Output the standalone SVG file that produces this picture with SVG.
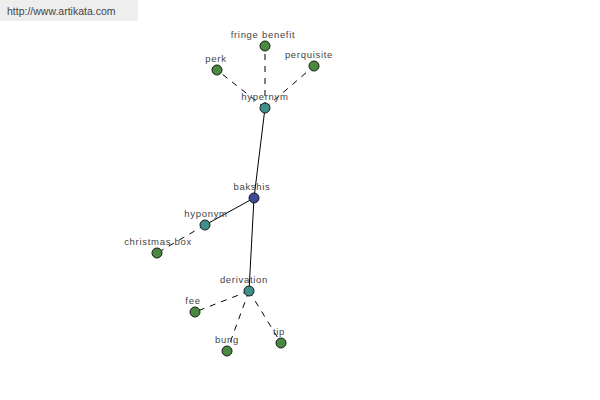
<svg xmlns="http://www.w3.org/2000/svg" width="600" height="400" viewBox="0 0 600 400">
<style>
.c line{stroke:#000;stroke-width:1}
.c .d{stroke-dasharray:6,6}
.n circle{stroke:#1a1a1a;stroke-width:1}
.g circle{fill:#4a8a40}
.t circle{fill:#3f8f8a}
.b circle{fill:#3f4a9a}
text{font-family:"Liberation Sans",Arial,sans-serif;font-size:9.5px;letter-spacing:0.7px;fill:#444;text-anchor:middle}
</style>
<rect width="600" height="400" fill="#fff"/>
<g id="watermark"><rect x="0" y="0" width="138" height="21" fill="#eeeeee"/><text x="7" y="15" style="font-size:10.5px;letter-spacing:0;text-anchor:start;fill:#444">http://www.artikata.com</text></g>
<g class="c" id="connectors">
<line class="d" x1="265" y1="108" x2="265" y2="46"/>
<line class="d" x1="265" y1="108" x2="217" y2="70"/>
<line class="d" x1="265" y1="108" x2="314" y2="66"/>
<line x1="265" y1="108" x2="254" y2="198"/>
<line x1="254" y1="198" x2="205" y2="225"/>
<line class="d" x1="205" y1="225" x2="157" y2="253"/>
<line x1="254" y1="198" x2="249" y2="291"/>
<line class="d" x1="249" y1="291" x2="195" y2="312"/>
<line class="d" x1="249" y1="291" x2="227" y2="351"/>
<line class="d" x1="249" y1="291" x2="281" y2="343"/>
</g>
<g id="fringe_benefit" class="n g"><circle cx="265" cy="46" r="5"/><text x="263" y="38">fringe benefit</text></g>
<g id="perk" class="n g"><circle cx="217" cy="70" r="5"/><text x="216" y="62">perk</text></g>
<g id="perquisite" class="n g"><circle cx="314" cy="66" r="5"/><text x="309" y="58">perquisite</text></g>
<g id="hypernym" class="n t"><circle cx="265" cy="108" r="5"/><text x="265" y="100">hypernym</text></g>
<g id="bakshis" class="n b"><circle cx="254" cy="198" r="5"/><text x="252" y="190">bakshis</text></g>
<g id="hyponym" class="n t"><circle cx="205" cy="225" r="5"/><text x="206" y="217">hyponym</text></g>
<g id="christmas_box" class="n g"><circle cx="157" cy="253" r="5"/><text x="158" y="245">christmas box</text></g>
<g id="derivation" class="n t"><circle cx="249" cy="291" r="5"/><text x="244" y="283">derivation</text></g>
<g id="fee" class="n g"><circle cx="195" cy="312" r="5"/><text x="193" y="304">fee</text></g>
<g id="bung" class="n g"><circle cx="227" cy="351" r="5"/><text x="227" y="343">bung</text></g>
<g id="tip" class="n g"><circle cx="281" cy="343" r="5"/><text x="279" y="335">tip</text></g>
</svg>
